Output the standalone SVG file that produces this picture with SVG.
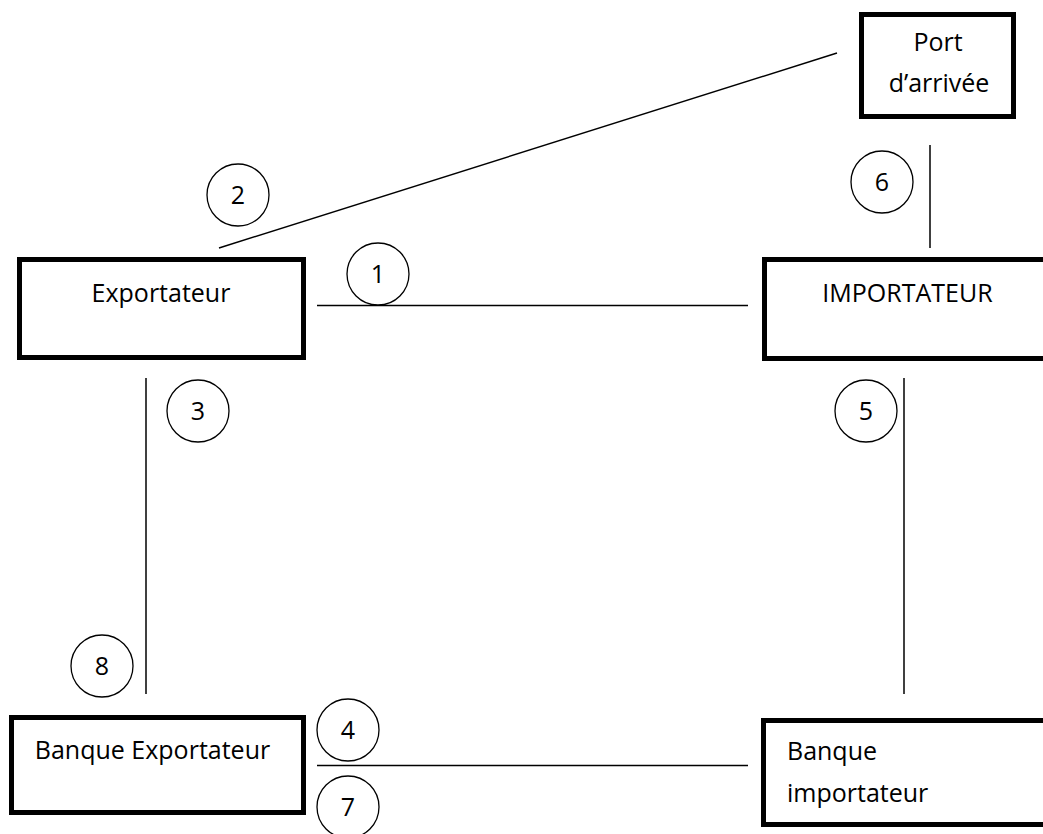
<svg xmlns="http://www.w3.org/2000/svg" width="1043" height="834" viewBox="0 0 1043 834">
  <style>
    .box { fill: #ffffff; stroke: #000000; stroke-width: 5; }
    .lbl { font-family: "Open Sans", "Liberation Sans", sans-serif; font-size: 25px; fill: #000000; }
    .mid { text-anchor: middle; }
    .link { stroke: #000000; stroke-width: 1.5; fill: none; }
    .step { fill: #ffffff; stroke: #000000; stroke-width: 1.3; }
  </style>
  <rect width="1043" height="834" fill="#ffffff"/>

  <!-- connectors -->
  <g id="connectors">
    <line class="link" x1="219" y1="248" x2="837" y2="53"/>
    <line class="link" x1="317" y1="305.5" x2="748" y2="305.5"/>
    <line class="link" x1="930" y1="145" x2="930" y2="248"/>
    <line class="link" x1="146" y1="378" x2="146" y2="694"/>
    <line class="link" x1="904" y1="378" x2="904" y2="694"/>
    <line class="link" x1="317" y1="765.5" x2="748" y2="765.5"/>
  </g>

  <!-- step markers -->
  <g id="steps">
    <g id="step-1"><circle class="step" cx="378" cy="274" r="31"/><text class="lbl mid" x="378" y="283">1</text></g>
    <g id="step-2"><circle class="step" cx="238" cy="195" r="31"/><text class="lbl mid" x="238" y="204">2</text></g>
    <g id="step-3"><circle class="step" cx="198" cy="411" r="31"/><text class="lbl mid" x="198" y="420">3</text></g>
    <g id="step-4"><circle class="step" cx="348" cy="730" r="31"/><text class="lbl mid" x="348" y="739">4</text></g>
    <g id="step-5"><circle class="step" cx="866" cy="411" r="31"/><text class="lbl mid" x="866" y="420">5</text></g>
    <g id="step-6"><circle class="step" cx="882" cy="182" r="31"/><text class="lbl mid" x="882" y="191">6</text></g>
    <g id="step-7"><circle class="step" cx="348" cy="807" r="31"/><text class="lbl mid" x="348" y="816">7</text></g>
    <g id="step-8"><circle class="step" cx="102" cy="666" r="31"/><text class="lbl mid" x="102" y="675">8</text></g>
  </g>

  <!-- nodes -->
  <g id="port">
    <rect class="box" x="861.5" y="14.5" width="152" height="102"/>
    <text class="lbl mid" x="938" y="51">Port</text>
    <text class="lbl mid" x="939" y="92">d’arrivée</text>
  </g>
  <g id="exportateur">
    <rect class="box" x="19.5" y="259.5" width="284" height="98"/>
    <text class="lbl mid" x="161" y="302">Exportateur</text>
  </g>
  <g id="importateur">
    <rect class="box" x="764.5" y="259.5" width="300" height="99"/>
    <text class="lbl mid" x="907.5" y="302">IMPORTATEUR</text>
  </g>
  <g id="banque-exportateur">
    <rect class="box" x="11.5" y="717.5" width="292" height="95"/>
    <text class="lbl mid" x="152.5" y="759">Banque Exportateur</text>
  </g>
  <g id="banque-importateur">
    <rect class="box" x="763.5" y="720.5" width="300" height="104"/>
    <text class="lbl" x="787" y="760">Banque</text>
    <text class="lbl" x="787" y="802">importateur</text>
  </g>
</svg>
